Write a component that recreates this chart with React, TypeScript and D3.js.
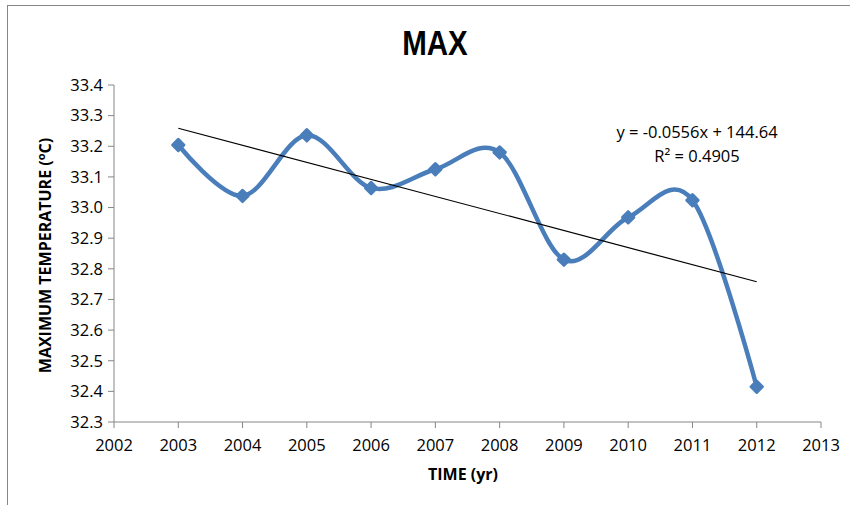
import React from "react";
import * as d3 from "d3";

const years = [2003, 2004, 2005, 2006, 2007, 2008, 2009, 2010, 2011, 2012];
const maxTemp = [33.204, 33.038, 33.236, 33.064, 33.125, 33.18, 32.83, 32.968, 33.024, 32.415];
const yTicks = [32.3, 32.4, 32.5, 32.6, 32.7, 32.8, 32.9, 33.0, 33.1, 33.2, 33.3, 33.4];
const xTicks = [2002, 2003, 2004, 2005, 2006, 2007, 2008, 2009, 2010, 2011, 2012, 2013];
const equationText = "y = -0.0556x + 144.64";
const r2Value = "0.4905";

const W = 850,
  H = 505,
  margin = { top: 85, bottom: 83, left: 114, right: 29 };

const font = "'Open Sans', 'Liberation Sans', sans-serif";
const axisColor = "#868686";
const blue = "#4a7ebb";

function App() {
  const xScale = d3.scaleLinear().domain([2002, 2013]).range([margin.left, W - margin.right]);
  const yScale = d3.scaleLinear().domain([32.3, 33.4]).range([H - margin.bottom, margin.top]);

  const pts: [number, number][] = years.map((y, i) => [y, maxTemp[i]]);

  const line = d3
    .line<[number, number]>()
    .x(d => xScale(d[0]))
    .y(d => yScale(d[1]))
    .curve(d3.curveCatmullRom.alpha(0));

  // least squares trendline
  const xm = d3.mean(years) as number;
  const ym = d3.mean(maxTemp) as number;
  const slope =
    (d3.sum(years, (x, i) => (x - xm) * (maxTemp[i] - ym)) as number) /
    (d3.sum(years, x => (x - xm) * (x - xm)) as number);
  const icpt = ym - slope * xm;
  const x0 = years[0],
    x1 = years[years.length - 1];

  const bottom = H - margin.bottom;

  return (
    <svg width={W} height={H} style={{ position: "absolute", left: 0, top: 0, background: "#fff" }}>
      <rect x={7.5} y={5.5} width={900} height={600} fill="#fff" stroke={axisColor} />

      <text
        transform="translate(435,55) scale(0.82,1)"
        textAnchor="middle"
        style={{ fontFamily: "'Liberation Sans', sans-serif", fontWeight: "bold", fontSize: 36 }}
      >
        MAX
      </text>

      {/* y axis */}
      <line x1={margin.left} x2={margin.left} y1={yScale(33.4)} y2={bottom} stroke={axisColor} />
      {yTicks.map((t, i) => (
        <g key={i}>
          <line x1={margin.left - 6} x2={margin.left} y1={yScale(t)} y2={yScale(t)} stroke={axisColor} />
          <text
            x={margin.left - 11}
            y={yScale(t)}
            dy=".35em"
            textAnchor="end"
            style={{ fontFamily: font, fontSize: 16.5 }}
          >
            {t.toFixed(1)}
          </text>
        </g>
      ))}

      {/* x axis */}
      <line x1={margin.left} x2={W - margin.right} y1={bottom} y2={bottom} stroke={axisColor} />
      {xTicks.map((t, i) => (
        <g key={i}>
          <line x1={xScale(t)} x2={xScale(t)} y1={bottom} y2={bottom + 6} stroke={axisColor} />
          <text x={xScale(t)} y={bottom + 29} textAnchor="middle" style={{ fontFamily: font, fontSize: 16.5 }}>
            {t}
          </text>
        </g>
      ))}

      <text
        x={463}
        y={480}
        textAnchor="middle"
        style={{ fontFamily: font, fontWeight: "bold", fontSize: 16 }}
      >
        TIME (yr)
      </text>
      <text
        transform={`translate(51,${(margin.top + bottom) / 2 + 2}) rotate(-90)`}
        textAnchor="middle"
        style={{ fontFamily: font, fontWeight: "bold", fontSize: 16 }}
      >
        MAXIMUM TEMPERATURE (
        <tspan dy={-6} fontSize={11}>o</tspan>
        <tspan dy={6}>C)</tspan>
      </text>

      {/* series */}
      <path d={line(pts) || ""} fill="none" stroke={blue} strokeWidth={4.5} strokeLinejoin="round" />
      {pts.map((d, i) => (
        <rect
          key={i}
          x={-5.5}
          y={-5.5}
          width={11}
          height={11}
          rx={1.5}
          fill={blue}
          transform={`translate(${xScale(d[0])},${yScale(d[1])}) rotate(45)`}
        />
      ))}

      {/* trendline */}
      <line
        x1={xScale(x0)}
        y1={yScale(slope * x0 + icpt)}
        x2={xScale(x1)}
        y2={yScale(slope * x1 + icpt)}
        stroke="#000"
        strokeWidth={1.2}
      />

      <text x={697} y={138} textAnchor="middle" style={{ fontFamily: font, fontSize: 16.5 }}>
        {equationText}
      </text>
      <text x={697} y={162} textAnchor="middle" style={{ fontFamily: font, fontSize: 16.5 }}>
        R² = {r2Value}
      </text>
    </svg>
  );
}

export default App;
